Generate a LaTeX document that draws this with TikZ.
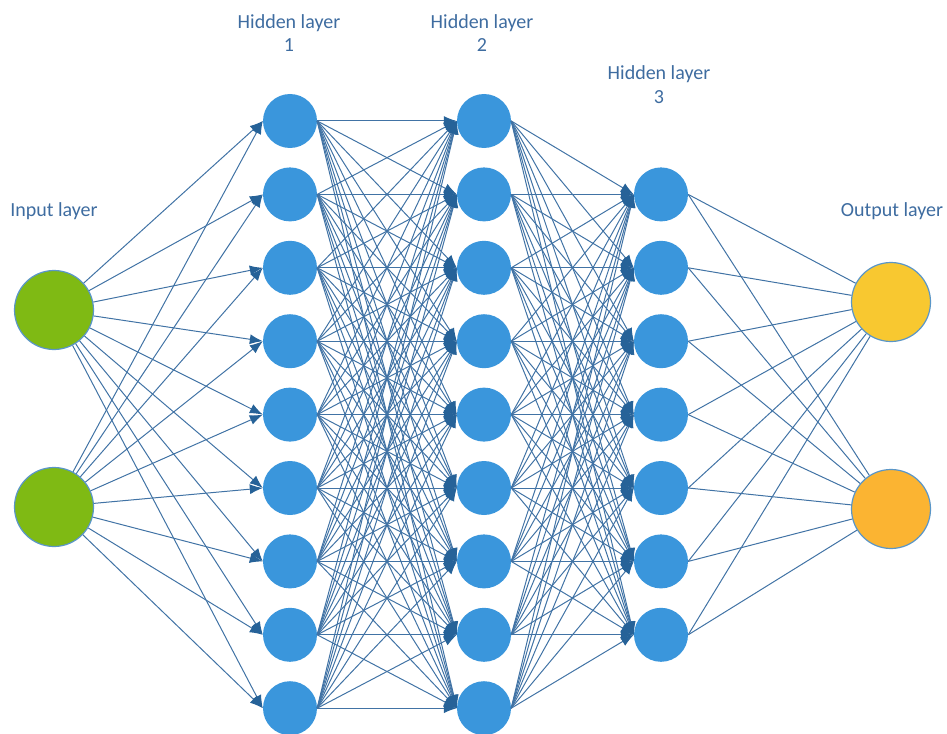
\documentclass[tikz,border=0pt]{standalone}
\usepackage{fontspec}
\setmainfont{Carlito}
\usetikzlibrary{arrows.meta}
\definecolor{txtc}{RGB}{62,108,160}
\definecolor{edgec}{RGB}{65,115,165}
\definecolor{tipc}{RGB}{38,98,152}
\definecolor{hidc}{RGB}{58,150,220}
\definecolor{inc}{RGB}{127,186,20}
\definecolor{outa}{RGB}{248,200,48}
\definecolor{outb}{RGB}{251,180,50}
\definecolor{rimc}{RGB}{90,150,200}
\begin{document}
\begin{tikzpicture}[x=1pt,y=-1pt,
  hid/.style={circle,fill=hidc,minimum size=54pt,inner sep=0pt},
  big/.style={circle,draw=rimc,line width=1.2pt,minimum size=79pt,inner sep=0pt},
  lbl/.style={text=txtc,font=\fontsize{20}{23}\selectfont,anchor=base,inner sep=0pt},
  conn/.style={draw=edgec,line width=1pt},
  arr/.style={conn,-{Latex[length=13pt,width=10pt,color=tipc]}}]
\useasboundingbox (0,0) rectangle (947,733);
% labels
\node[lbl] (t1a) at (289,29) {Hidden layer};
\node[lbl] (t1b) at (289,52) {1};
\node[lbl] (t2a) at (482,29) {Hidden layer};
\node[lbl] (t2b) at (482,52) {2};
\node[lbl] (t3a) at (659,80) {Hidden layer};
\node[lbl] (t3b) at (659,103) {3};
\node[lbl] (tin) at (54,216) {Input layer};
\node[lbl] (tout) at (892,216) {Output layer};
% nodes
\node[big,fill=inc] (i1) at (54,310) {};
\node[big,fill=inc] (i2) at (54,507) {};
\node[big,fill=outa] (o1) at (891,302) {};
\node[big,fill=outb] (o2) at (891,509) {};
\foreach \j in {1,...,9}{
  \node[hid] (a\j) at (290,{121+73.4*(\j-1)}) {};
  \node[hid] (b\j) at (484,{121+73.4*(\j-1)}) {};
}
\foreach \j in {1,...,7}{
  \node[hid] (c\j) at (661,{194.4+73.4*(\j-1)}) {};
}
% connectors
\foreach \i in {1,2}{\foreach \j in {1,...,9}{\draw[arr] (i\i) -- (a\j.west);}}
\foreach \i in {1,...,9}{\foreach \j in {1,...,9}{\draw[arr] (a\i.east) -- (b\j.west);}}
\foreach \i in {1,...,9}{\foreach \j in {1,...,7}{\draw[arr] (b\i.east) -- (c\j.west);}}
\foreach \i in {1,...,7}{\foreach \j in {1,2}{\draw[conn] (c\i.east) -- (o\j);}}
\end{tikzpicture}
\end{document}
